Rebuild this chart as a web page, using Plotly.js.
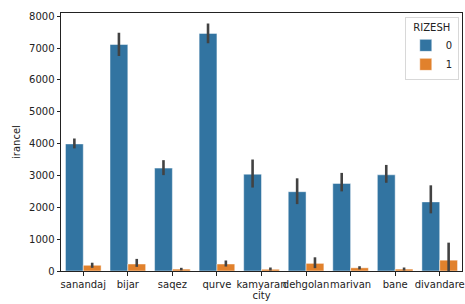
<!DOCTYPE html>
<html><head><meta charset="utf-8">
<script src="https://cdn.plot.ly/plotly-3.0.1.min.js"></script>
<style>html,body{margin:0;padding:0;background:#fff;}</style>
</head><body>
<div id="chart" style="width:465px;height:304px;"></div>
<script>
const cities = ["sanandaj","bijar","saqez","qurve","kamyaran","dehgolan","marivan","bane","divandare"];
const mean0 = [3990, 7110, 3230, 7460, 3040, 2490, 2750, 3020, 2170];
const lo0   = [3850, 6750, 3010, 7150, 2620, 2100, 2500, 2770, 1810];
const hi0   = [4160, 7480, 3480, 7770, 3500, 2910, 3080, 3330, 2690];
const mean1 = [180, 220, 60, 220, 55, 240, 100, 60, 340];
const lo1   = [100, 130, 20, 140, 15, 90, 50, 15, 0];
const hi1   = [260, 380, 100, 330, 110, 430, 150, 110, 890];

function mkTrace(name, mean, lo, hi, color){
  return {
    type: 'bar', name: name, x: cities, y: mean,
    marker: {color: color, line: {color: 'rgba(255,255,255,0.6)', width: 0.8}},
    error_y: {type: 'data', symmetric: false,
      array: hi.map((h,i)=>h-mean[i]), arrayminus: mean.map((m,i)=>m-lo[i]),
      color: '#424242', thickness: 2.6, width: 0}
  };
}
const data = [
  mkTrace('0', mean0, lo0, hi0, '#3274a1'),
  mkTrace('1', mean1, lo1, hi1, '#e1812c')
];
const font = {family: 'DejaVu Sans, sans-serif', size: 10, color: '#222'};
const layout = {
  width: 465, height: 304,
  margin: {l: 61, r: 3, t: 13, b: 33},
  paper_bgcolor: '#fff', plot_bgcolor: '#fff',
  font: font,
  barmode: 'group', bargap: 0.2, bargroupgap: 0,
  showlegend: true,
  legend: {title: {text: 'RIZESH', side: 'top center', font: font}, x: 0.992, xanchor: 'right', y: 0.985, yanchor: 'top',
    bordercolor: '#d8d8d8', borderwidth: 1, bgcolor: 'rgba(255,255,255,0.8)', font: font,
    traceorder: 'normal', itemwidth: 30, tracegroupgap: 2},
  xaxis: {title: {text: 'city', font: font, standoff: 3}, showline: true, mirror: true, linecolor: '#222', linewidth: 1,
    ticks: 'outside', ticklen: 3.5, tickcolor: '#222', showgrid: false, zeroline: false, tickfont: font,
    tickangle: 0, automargin: false},
  yaxis: {title: {text: 'irancel', font: font, standoff: 6}, range: [0, 8100], dtick: 1000, showline: true, mirror: true,
    linecolor: '#222', linewidth: 1, ticks: 'outside', ticklen: 3.5, tickcolor: '#222', showgrid: false, zeroline: false,
    tickfont: font, automargin: false}
};
Plotly.newPlot('chart', data, layout, {displayModeBar: false, staticPlot: true});
</script>
</body></html>
